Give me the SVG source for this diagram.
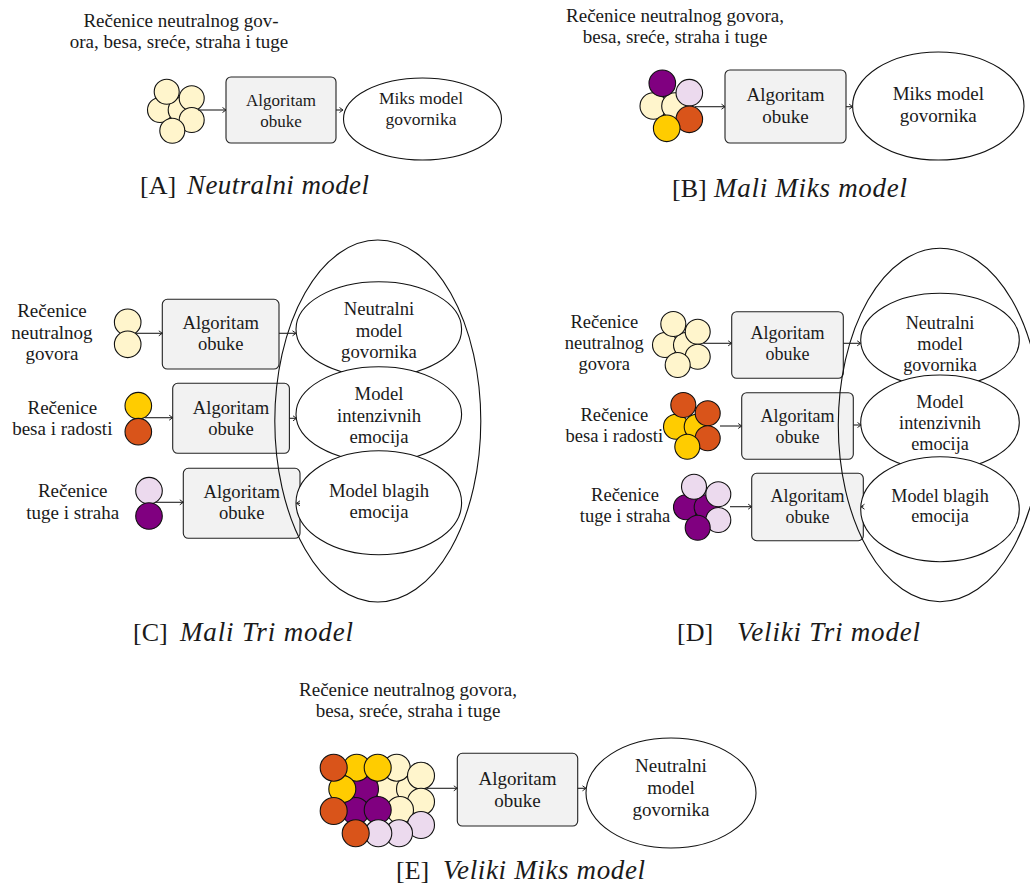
<svg xmlns="http://www.w3.org/2000/svg" width="1030" height="890" viewBox="0 0 1030 890" font-family="'Liberation Serif', 'DejaVu Serif', 'Times New Roman', serif">
<defs>
<style>
text{fill:#1a1a1a;text-anchor:middle}
.lbl{font-size:19px}
.lbd{font-size:18.5px}
.cap{font-size:26px;text-anchor:start}
.capi{font-size:27px;font-style:italic;text-anchor:start}
.box{fill:#f2f2f2;stroke:#222;stroke-width:1.1}
.ell{fill:#fff;stroke:#111;stroke-width:1.1}
.big{fill:none;stroke:#111;stroke-width:1.1}
.c{stroke:#111;stroke-width:1.1}
.ly{fill:#fff5cc}.gd{fill:#ffcc00}.or{fill:#d9541a}.pu{fill:#800080}.lv{fill:#ecdaee}
.ar{fill:none;stroke:#222;stroke-width:1.1;marker-end:url(#ah)}
</style>
<marker id="ah" markerUnits="userSpaceOnUse" markerWidth="8" markerHeight="8" refX="5" refY="4" orient="auto">
<path d="M1.5,1.5 L5,4 L1.5,6.5" fill="none" stroke="#222" stroke-width="1"/>
</marker>
</defs>

<!-- Panel A -->
<g id="A-label">
<text class="lbl" x="181" y="27">Rečenice neutralnog gov-</text>
<text class="lbl" x="179" y="48">ora, besa, sreće, straha i tuge</text>
</g>
<g id="A-data">
<circle class="c ly" cx="160" cy="110" r="12.5"/>
<circle class="c ly" cx="180.7" cy="110" r="12.5"/>
<circle class="c ly" cx="166.7" cy="91.7" r="12.5"/>
<circle class="c ly" cx="191.7" cy="98.3" r="12.5"/>
<circle class="c ly" cx="191.7" cy="120" r="12.5"/>
<circle class="c ly" cx="172.3" cy="130.7" r="12.5"/>
</g>
<g id="A-algo">
<rect class="box" x="226" y="77" width="110" height="66" rx="5"/>
<text style="font-size:17px" x="281" y="106">Algoritam</text>
<text style="font-size:17px" x="281" y="127">obuke</text>
</g>
<g id="A-model">
<ellipse class="ell" cx="422.5" cy="119" rx="79" ry="41"/>
<text style="font-size:17.5px" x="421" y="104">Miks model</text>
<text style="font-size:17.5px" x="421" y="125">govornika</text>
</g>
<g id="A-caption">
<text class="cap" x="140" y="194">[A]</text>
<text class="capi" x="187" y="194" textLength="182">Neutralni model</text>
</g>

<!-- Panel B -->
<g id="B-label">
<text class="lbl" x="675" y="22">Rečenice neutralnog govora,</text>
<text class="lbl" x="675" y="43">besa, sreće, straha i tuge</text>
</g>
<g id="B-data">
<circle class="c ly" cx="653.3" cy="106" r="13.3"/>
<circle class="c ly" cx="675" cy="106" r="13.3"/>
<circle class="c pu" cx="662.3" cy="83.3" r="13.3"/>
<circle class="c lv" cx="689.3" cy="92.7" r="13.3"/>
<circle class="c or" cx="689.3" cy="119.3" r="13.3"/>
<circle class="c gd" cx="666.7" cy="128.3" r="13.3"/>
</g>
<g id="B-algo">
<rect class="box" x="725" y="70" width="121" height="73" rx="5"/>
<text style="font-size:19px" x="785.5" y="101">Algoritam</text>
<text style="font-size:19px" x="785.5" y="123">obuke</text>
</g>
<g id="B-model">
<ellipse class="ell" cx="938.3" cy="106" rx="85.7" ry="54"/>
<text style="font-size:19px" x="938.3" y="100">Miks model</text>
<text style="font-size:19px" x="938.3" y="122">govornika</text>
</g>
<g id="B-caption">
<text class="cap" x="672" y="197">[B]</text>
<text class="capi" x="714" y="197" textLength="193">Mali Miks model</text>
</g>

<!-- Panel C -->
<g id="C-labels">
<text class="lbl" x="52" y="317">Rečenice</text>
<text class="lbl" x="52" y="338.5">neutralnog</text>
<text class="lbl" x="52" y="359.5">govora</text>
<text class="lbl" x="62.3" y="413.5">Rečenice</text>
<text class="lbl" x="62.3" y="435">besa i radosti</text>
<text class="lbl" x="72.7" y="497">Rečenice</text>
<text class="lbl" x="72.7" y="518.5">tuge i straha</text>
</g>
<g id="C-data">
<circle class="c ly" cx="127.7" cy="322.3" r="13.3"/>
<circle class="c ly" cx="127.7" cy="344.3" r="13.3"/>
<circle class="c gd" cx="138.3" cy="405.7" r="13.3"/>
<circle class="c or" cx="138.3" cy="431.7" r="13.3"/>
<circle class="c lv" cx="149" cy="490.7" r="13.3"/>
<circle class="c pu" cx="149" cy="516" r="13.3"/>
</g>
<g id="C-algo">
<rect class="box" x="162.3" y="299.3" width="116.7" height="69.7" rx="5"/>
<text style="font-size:18.6px" x="220.7" y="328.5">Algoritam</text>
<text style="font-size:18.6px" x="220.7" y="350">obuke</text>
<rect class="box" x="172.7" y="383.3" width="116.7" height="70" rx="5"/>
<text style="font-size:18.6px" x="231" y="413.5">Algoritam</text>
<text style="font-size:18.6px" x="231" y="435">obuke</text>
<rect class="box" x="183.3" y="468.3" width="116.7" height="70" rx="5"/>
<text style="font-size:18.6px" x="241.7" y="498">Algoritam</text>
<text style="font-size:18.6px" x="241.7" y="519">obuke</text>
</g>
<g id="C-group">
<ellipse class="big" cx="377.8" cy="421" rx="103" ry="181"/>
</g>
<g id="C-models">
<ellipse class="ell" cx="378.8" cy="329.2" rx="82.8" ry="47.5"/>
<text style="font-size:18.7px" x="379" y="315">Neutralni</text>
<text style="font-size:18.7px" x="379" y="336.7">model</text>
<text style="font-size:18.7px" x="379" y="358.3">govornika</text>
<ellipse class="ell" cx="378.8" cy="414.2" rx="82.8" ry="47.5"/>
<text style="font-size:18.7px" x="379" y="400">Model</text>
<text style="font-size:18.7px" x="379" y="421.7">intenzivnih</text>
<text style="font-size:18.7px" x="379" y="443.3">emocija</text>
<ellipse class="ell" cx="378.8" cy="502.8" rx="82.8" ry="52"/>
<text style="font-size:18.7px" x="379" y="496.7">Model blagih</text>
<text style="font-size:18.7px" x="379" y="518.3">emocija</text>
</g>
<g id="C-caption">
<text class="cap" x="133" y="641">[C]</text>
<text class="capi" x="180" y="641" textLength="173">Mali Tri model</text>
</g>

<!-- Panel D -->
<g id="D-labels">
<text class="lbd" x="604.3" y="328">Rečenice</text>
<text class="lbd" x="604.3" y="348.5">neutralnog</text>
<text class="lbd" x="604.3" y="369.5">govora</text>
<text class="lbd" x="614.3" y="421">Rečenice</text>
<text class="lbd" x="614.3" y="442">besa i radosti</text>
<text class="lbd" x="625" y="500.5">Rečenice</text>
<text class="lbd" x="625" y="521.7">tuge i straha</text>
</g>
<g id="D-data">
<circle class="c ly" cx="665" cy="345" r="12.5"/>
<circle class="c ly" cx="686" cy="345" r="12.5"/>
<circle class="c ly" cx="673.3" cy="324" r="12.5"/>
<circle class="c ly" cx="697.7" cy="331.7" r="12.5"/>
<circle class="c ly" cx="697.7" cy="356.7" r="12.5"/>
<circle class="c ly" cx="677.7" cy="365" r="12.5"/>
<circle class="c gd" cx="676" cy="426.7" r="12.5"/>
<circle class="c gd" cx="696.7" cy="426.7" r="12.5"/>
<circle class="c or" cx="683.3" cy="405" r="12.5"/>
<circle class="c or" cx="707.7" cy="413.3" r="12.5"/>
<circle class="c or" cx="707.7" cy="438.3" r="12.5"/>
<circle class="c gd" cx="687.3" cy="446.7" r="12.5"/>
<circle class="c pu" cx="686" cy="507.3" r="12.5"/>
<circle class="c pu" cx="706.7" cy="507.3" r="12.5"/>
<circle class="c lv" cx="694" cy="486.7" r="12.5"/>
<circle class="c lv" cx="718.3" cy="494.3" r="12.5"/>
<circle class="c lv" cx="718.3" cy="520" r="12.5"/>
<circle class="c pu" cx="697.7" cy="527.7" r="12.5"/>
</g>
<g id="D-algo">
<rect class="box" x="731.7" y="311.7" width="111.6" height="66.6" rx="5"/>
<text style="font-size:18px" x="787.5" y="338.5">Algoritam</text>
<text style="font-size:18px" x="787.5" y="359.5">obuke</text>
<rect class="box" x="741.7" y="392.7" width="111.6" height="66.6" rx="5"/>
<text style="font-size:18px" x="797.5" y="421.7">Algoritam</text>
<text style="font-size:18px" x="797.5" y="442.7">obuke</text>
<rect class="box" x="751.7" y="473.3" width="111.6" height="67.4" rx="5"/>
<text style="font-size:18px" x="807.5" y="501.7">Algoritam</text>
<text style="font-size:18px" x="807.5" y="522.7">obuke</text>
</g>
<g id="D-group">
<ellipse class="big" cx="940" cy="425" rx="101.7" ry="176.7"/>
</g>
<g id="D-models">
<ellipse class="ell" cx="940" cy="340" rx="79.3" ry="46.7"/>
<text style="font-size:18.2px" x="940" y="329.3">Neutralni</text>
<text style="font-size:18.2px" x="940" y="350">model</text>
<text style="font-size:18.2px" x="940" y="370.7">govornika</text>
<ellipse class="ell" cx="940" cy="422.5" rx="79.3" ry="47.5"/>
<text style="font-size:18.2px" x="940" y="408.3">Model</text>
<text style="font-size:18.2px" x="940" y="429.3">intenzivnih</text>
<text style="font-size:18.2px" x="940" y="450">emocija</text>
<ellipse class="ell" cx="940" cy="509.2" rx="79.3" ry="52.5"/>
<text style="font-size:18.2px" x="940" y="501.7">Model blagih</text>
<text style="font-size:18.2px" x="940" y="521.7">emocija</text>
</g>
<g id="D-caption">
<text class="cap" x="677" y="641">[D]</text>
<text class="capi" x="737" y="641" textLength="183">Veliki Tri model</text>
</g>

<!-- Panel E -->
<g id="E-label">
<text class="lbl" x="408" y="696">Rečenice neutralnog govora,</text>
<text class="lbl" x="408" y="716.7">besa, sreće, straha i tuge</text>
</g>
<g id="E-data">
<circle class="c ly" cx="389" cy="789" r="13.5"/>
<circle class="c ly" cx="410" cy="789" r="13.5"/>
<circle class="c ly" cx="396.7" cy="767.7" r="13.5"/>
<circle class="c ly" cx="421" cy="775.7" r="13.5"/>
<circle class="c ly" cx="421" cy="801.7" r="13.5"/>
<circle class="c ly" cx="400" cy="810" r="13.5"/>
<circle class="c pu" cx="365" cy="789" r="13.5"/>
<circle class="c pu" cx="355.7" cy="811" r="13.5"/>
<circle class="c pu" cx="377.7" cy="810" r="13.5"/>
<circle class="c gd" cx="356.7" cy="767.7" r="13.5"/>
<circle class="c gd" cx="377.7" cy="767.7" r="13.5"/>
<circle class="c gd" cx="342.3" cy="789" r="13.5"/>
<circle class="c lv" cx="421" cy="825" r="13.5"/>
<circle class="c lv" cx="399" cy="833.3" r="13.5"/>
<circle class="c lv" cx="378.3" cy="833.3" r="13.5"/>
<circle class="c or" cx="333.7" cy="767.7" r="13.5"/>
<circle class="c or" cx="333.7" cy="811" r="13.5"/>
<circle class="c or" cx="355.7" cy="833.3" r="13.5"/>
</g>
<g id="E-algo">
<rect class="box" x="457.3" y="753.3" width="120.4" height="72.7" rx="5"/>
<text style="font-size:19px" x="517.5" y="785">Algoritam</text>
<text style="font-size:19px" x="517.5" y="806.7">obuke</text>
</g>
<g id="E-model">
<ellipse class="ell" cx="671" cy="793" rx="85" ry="55"/>
<text style="font-size:19px" x="671" y="771.7">Neutralni</text>
<text style="font-size:19px" x="671" y="793.5">model</text>
<text style="font-size:19px" x="671" y="816">govornika</text>
</g>
<g id="E-caption">
<text class="cap" x="396" y="879">[E]</text>
<text class="capi" x="443" y="879" textLength="202">Veliki Miks model</text>
</g>

<!-- Connectors -->
<g id="connectors">
<path class="ar" d="M198,110 H226"/>
<path class="ar" d="M336,110 H343"/>
<path class="ar" d="M695,106.7 H725"/>
<path class="ar" d="M846,106.7 H852.7"/>
<path class="ar" d="M135,333.3 H162.3"/>
<path class="ar" d="M279,333.3 H296"/>
<path class="ar" d="M145,417.7 H172.7"/>
<path class="ar" d="M289.3,418.3 H296.5"/>
<path class="ar" d="M155,502.3 H183.3"/>
<path class="ar" d="M300,503.3 H296.5"/>
<path class="ar" d="M703.3,343.3 H731.7"/>
<path class="ar" d="M843.3,343.3 H860.7"/>
<path class="ar" d="M720,426 H741.7"/>
<path class="ar" d="M853.3,425 H861"/>
<path class="ar" d="M730,506.7 H751.7"/>
<path class="ar" d="M863.3,506.7 H861"/>
<path class="ar" d="M426.7,788.3 H457.3"/>
<path class="ar" d="M577.7,788.3 H586"/>
</g>
</svg>
